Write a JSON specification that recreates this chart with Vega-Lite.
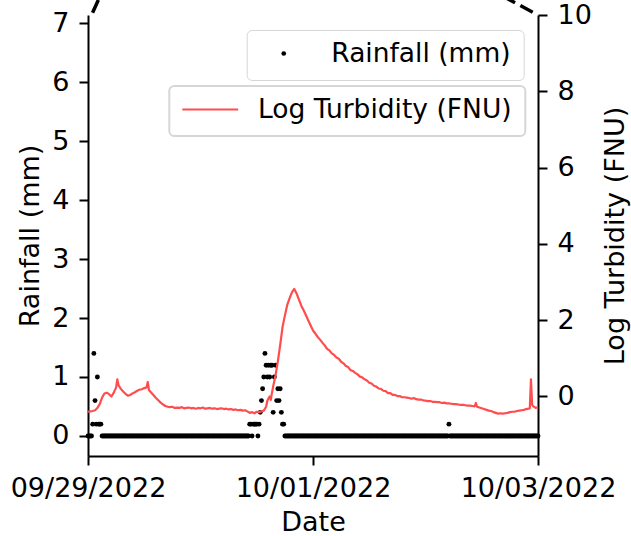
{
"$schema":"https://vega.github.io/schema/vega-lite/v6.json",
"width":450,"height":441,
"autosize":{"type":"none"},
"padding":{"left":88,"top":15,"right":93,"bottom":80},
"background":"white",
"data":{"values":[
{"d":"2022-09-29T00:00","r":0,"t":-0.4},{"d":"2022-09-29T00:15","r":0},{"d":"2022-09-29T00:30","r":0,"t":-0.39},{"d":"2022-09-29T00:45","r":0},
{"d":"2022-09-29T01:00","r":0.2,"t":-0.38},{"d":"2022-09-29T01:15","r":1.4},{"d":"2022-09-29T01:30","r":0.6,"t":-0.36},{"d":"2022-09-29T01:45","r":0.2},
{"d":"2022-09-29T02:00","r":1.0,"t":-0.3},{"d":"2022-09-29T02:15","r":0.2},{"d":"2022-09-29T02:30","r":0.2,"t":-0.2},{"d":"2022-09-29T02:45","r":0.2},
{"d":"2022-09-29T03:00","r":0,"t":-0.03},{"d":"2022-09-29T03:15","r":0},{"d":"2022-09-29T03:30","r":0,"t":0.08},{"d":"2022-09-29T03:45","r":0},
{"d":"2022-09-29T04:00","r":0,"t":0.1},{"d":"2022-09-29T04:15","r":0},{"d":"2022-09-29T04:30","r":0,"t":0.06},{"d":"2022-09-29T04:45","r":0},
{"d":"2022-09-29T05:00","r":0,"t":0.0},{"d":"2022-09-29T05:15","r":0},{"d":"2022-09-29T05:30","r":0,"t":0.1},{"d":"2022-09-29T05:45","r":0},
{"d":"2022-09-29T06:00","r":0,"t":0.24},{"d":"2022-09-29T06:15","r":0,"t":0.45},{"d":"2022-09-29T06:30","r":0,"t":0.3},{"d":"2022-09-29T06:45","r":0},
{"d":"2022-09-29T07:00","r":0,"t":0.2},{"d":"2022-09-29T07:15","r":0},{"d":"2022-09-29T07:30","r":0,"t":0.13},{"d":"2022-09-29T07:45","r":0},
{"d":"2022-09-29T08:00","r":0,"t":0.07},{"d":"2022-09-29T08:15","r":0},{"d":"2022-09-29T08:30","r":0,"t":0.02},{"d":"2022-09-29T08:45","r":0},
{"d":"2022-09-29T09:00","r":0,"t":0.04},{"d":"2022-09-29T09:15","r":0},{"d":"2022-09-29T09:30","r":0,"t":0.08},{"d":"2022-09-29T09:45","r":0},
{"d":"2022-09-29T10:00","r":0,"t":0.11},{"d":"2022-09-29T10:15","r":0},{"d":"2022-09-29T10:30","r":0,"t":0.15},{"d":"2022-09-29T10:45","r":0},
{"d":"2022-09-29T11:00","r":0,"t":0.18},{"d":"2022-09-29T11:15","r":0},{"d":"2022-09-29T11:30","r":0,"t":0.19},{"d":"2022-09-29T11:45","r":0},
{"d":"2022-09-29T12:00","r":0,"t":0.22},{"d":"2022-09-29T12:15","r":0},{"d":"2022-09-29T12:30","r":0,"t":0.24},{"d":"2022-09-29T12:45","r":0,"t":0.38},
{"d":"2022-09-29T13:00","r":0,"t":0.17},{"d":"2022-09-29T13:15","r":0},{"d":"2022-09-29T13:30","r":0,"t":0.1},{"d":"2022-09-29T13:45","r":0},
{"d":"2022-09-29T14:00","r":0,"t":0.03},{"d":"2022-09-29T14:15","r":0},{"d":"2022-09-29T14:30","r":0,"t":-0.04},{"d":"2022-09-29T14:45","r":0},
{"d":"2022-09-29T15:00","r":0,"t":-0.1},{"d":"2022-09-29T15:15","r":0},{"d":"2022-09-29T15:30","r":0,"t":-0.16},{"d":"2022-09-29T15:45","r":0},
{"d":"2022-09-29T16:00","r":0,"t":-0.21},{"d":"2022-09-29T16:15","r":0},{"d":"2022-09-29T16:30","r":0,"t":-0.25},{"d":"2022-09-29T16:45","r":0},
{"d":"2022-09-29T17:00","r":0,"t":-0.27},{"d":"2022-09-29T17:15","r":0},{"d":"2022-09-29T17:30","r":0,"t":-0.28},{"d":"2022-09-29T17:45","r":0},
{"d":"2022-09-29T18:00","r":0,"t":-0.27},{"d":"2022-09-29T18:15","r":0},{"d":"2022-09-29T18:30","r":0,"t":-0.3},{"d":"2022-09-29T18:45","r":0},
{"d":"2022-09-29T19:00","r":0,"t":-0.29},{"d":"2022-09-29T19:15","r":0},{"d":"2022-09-29T19:30","r":0,"t":-0.3},{"d":"2022-09-29T19:45","r":0},
{"d":"2022-09-29T20:00","r":0,"t":-0.28},{"d":"2022-09-29T20:15","r":0},{"d":"2022-09-29T20:30","r":0,"t":-0.31},{"d":"2022-09-29T20:45","r":0},
{"d":"2022-09-29T21:00","r":0,"t":-0.3},{"d":"2022-09-29T21:15","r":0},{"d":"2022-09-29T21:30","r":0,"t":-0.29},{"d":"2022-09-29T21:45","r":0},
{"d":"2022-09-29T22:00","r":0,"t":-0.31},{"d":"2022-09-29T22:15","r":0},{"d":"2022-09-29T22:30","r":0,"t":-0.3},{"d":"2022-09-29T22:45","r":0},
{"d":"2022-09-29T23:00","r":0,"t":-0.32},{"d":"2022-09-29T23:15","r":0},{"d":"2022-09-29T23:30","r":0,"t":-0.3},{"d":"2022-09-29T23:45","r":0},
{"d":"2022-09-30T00:00","r":0,"t":-0.31},{"d":"2022-09-30T00:15","r":0},{"d":"2022-09-30T00:30","r":0,"t":-0.29},{"d":"2022-09-30T00:45","r":0},
{"d":"2022-09-30T01:00","r":0,"t":-0.32},{"d":"2022-09-30T01:15","r":0},{"d":"2022-09-30T01:30","r":0,"t":-0.31},{"d":"2022-09-30T01:45","r":0},
{"d":"2022-09-30T02:00","r":0,"t":-0.3},{"d":"2022-09-30T02:15","r":0},{"d":"2022-09-30T02:30","r":0,"t":-0.32},{"d":"2022-09-30T02:45","r":0},
{"d":"2022-09-30T03:00","r":0,"t":-0.31},{"d":"2022-09-30T03:15","r":0},{"d":"2022-09-30T03:30","r":0,"t":-0.33},{"d":"2022-09-30T03:45","r":0},
{"d":"2022-09-30T04:00","r":0,"t":-0.32},{"d":"2022-09-30T04:15","r":0},{"d":"2022-09-30T04:30","r":0,"t":-0.31},{"d":"2022-09-30T04:45","r":0},
{"d":"2022-09-30T05:00","r":0,"t":-0.33},{"d":"2022-09-30T05:15","r":0},{"d":"2022-09-30T05:30","r":0,"t":-0.32},{"d":"2022-09-30T05:45","r":0},
{"d":"2022-09-30T06:00","r":0,"t":-0.34},{"d":"2022-09-30T06:15","r":0},{"d":"2022-09-30T06:30","r":0,"t":-0.33},{"d":"2022-09-30T06:45","r":0},
{"d":"2022-09-30T07:00","r":0,"t":-0.35},{"d":"2022-09-30T07:15","r":0},{"d":"2022-09-30T07:30","r":0,"t":-0.34},{"d":"2022-09-30T07:45","r":0},
{"d":"2022-09-30T08:00","r":0,"t":-0.36},{"d":"2022-09-30T08:15","r":0},{"d":"2022-09-30T08:30","r":0,"t":-0.35},{"d":"2022-09-30T08:45","r":0},
{"d":"2022-09-30T09:00","r":0,"t":-0.37},{"d":"2022-09-30T09:15","r":0},{"d":"2022-09-30T09:30","r":0,"t":-0.36},{"d":"2022-09-30T09:45","r":0},
{"d":"2022-09-30T10:00","r":0,"t":-0.39},{"d":"2022-09-30T10:15","r":0},{"d":"2022-09-30T10:30","r":0.2,"t":-0.43},{"d":"2022-09-30T10:45","r":0.2},
{"d":"2022-09-30T11:00","r":0,"t":-0.41},{"d":"2022-09-30T11:15","r":0.2},{"d":"2022-09-30T11:30","r":0.2,"t":-0.44},{"d":"2022-09-30T11:45","r":0.2},
{"d":"2022-09-30T12:00","r":0.2,"t":-0.4},{"d":"2022-09-30T12:15","r":0},{"d":"2022-09-30T12:30","r":0.2,"t":-0.41},{"d":"2022-09-30T12:45","r":0.4},
{"d":"2022-09-30T13:00","r":0.6,"t":-0.39},{"d":"2022-09-30T13:15","r":0.8},{"d":"2022-09-30T13:30","r":1.0,"t":-0.37},{"d":"2022-09-30T13:45","r":1.4},
{"d":"2022-09-30T14:00","r":1.2,"t":-0.27},{"d":"2022-09-30T14:15","r":1.0,"t":-0.12},{"d":"2022-09-30T14:30","r":1.2,"t":-0.05},{"d":"2022-09-30T14:45","r":1.0,"t":0.0},
{"d":"2022-09-30T15:00","r":1.2,"t":-0.09},{"d":"2022-09-30T15:15","r":1.2,"t":0.1},{"d":"2022-09-30T15:30","r":0.4,"t":0.26},{"d":"2022-09-30T15:45","r":1.0},
{"d":"2022-09-30T16:00","r":1.2,"t":0.55},{"d":"2022-09-30T16:15","r":0.6},{"d":"2022-09-30T16:30","r":0.8,"t":0.92},{"d":"2022-09-30T16:45","r":0.6},
{"d":"2022-09-30T17:00","r":0.8,"t":1.35},{"d":"2022-09-30T17:15","r":0.4},{"d":"2022-09-30T17:30","r":0.2,"t":1.82},{"d":"2022-09-30T17:45","r":0.2},
{"d":"2022-09-30T18:00","r":0,"t":2.12},{"d":"2022-09-30T18:15","r":0},{"d":"2022-09-30T18:30","r":0,"t":2.4},{"d":"2022-09-30T18:45","r":0},
{"d":"2022-09-30T19:00","r":0,"t":2.57},{"d":"2022-09-30T19:15","r":0},{"d":"2022-09-30T19:30","r":0,"t":2.73},{"d":"2022-09-30T19:45","r":0},
{"d":"2022-09-30T20:00","r":0,"t":2.82},{"d":"2022-09-30T20:15","r":0},{"d":"2022-09-30T20:30","r":0,"t":2.7},{"d":"2022-09-30T20:45","r":0},
{"d":"2022-09-30T21:00","r":0,"t":2.54},{"d":"2022-09-30T21:15","r":0},{"d":"2022-09-30T21:30","r":0,"t":2.38},{"d":"2022-09-30T21:45","r":0},
{"d":"2022-09-30T22:00","r":0,"t":2.26},{"d":"2022-09-30T22:15","r":0},{"d":"2022-09-30T22:30","r":0,"t":2.13},{"d":"2022-09-30T22:45","r":0},
{"d":"2022-09-30T23:00","r":0,"t":1.99},{"d":"2022-09-30T23:15","r":0},{"d":"2022-09-30T23:30","r":0,"t":1.86},{"d":"2022-09-30T23:45","r":0},
{"d":"2022-10-01T00:00","r":0,"t":1.73},{"d":"2022-10-01T00:15","r":0},{"d":"2022-10-01T00:30","r":0,"t":1.65},{"d":"2022-10-01T00:45","r":0},
{"d":"2022-10-01T01:00","r":0,"t":1.56},{"d":"2022-10-01T01:15","r":0},{"d":"2022-10-01T01:30","r":0,"t":1.49},{"d":"2022-10-01T01:45","r":0},
{"d":"2022-10-01T02:00","r":0,"t":1.41},{"d":"2022-10-01T02:15","r":0},{"d":"2022-10-01T02:30","r":0,"t":1.34},{"d":"2022-10-01T02:45","r":0},
{"d":"2022-10-01T03:00","r":0,"t":1.25},{"d":"2022-10-01T03:15","r":0},{"d":"2022-10-01T03:30","r":0,"t":1.21},{"d":"2022-10-01T03:45","r":0},
{"d":"2022-10-01T04:00","r":0,"t":1.13},{"d":"2022-10-01T04:15","r":0},{"d":"2022-10-01T04:30","r":0,"t":1.09},{"d":"2022-10-01T04:45","r":0},
{"d":"2022-10-01T05:00","r":0,"t":1.02},{"d":"2022-10-01T05:15","r":0},{"d":"2022-10-01T05:30","r":0,"t":0.99},{"d":"2022-10-01T05:45","r":0},
{"d":"2022-10-01T06:00","r":0,"t":0.91},{"d":"2022-10-01T06:15","r":0},{"d":"2022-10-01T06:30","r":0,"t":0.87},{"d":"2022-10-01T06:45","r":0},
{"d":"2022-10-01T07:00","r":0,"t":0.8},{"d":"2022-10-01T07:15","r":0},{"d":"2022-10-01T07:30","r":0,"t":0.77},{"d":"2022-10-01T07:45","r":0},
{"d":"2022-10-01T08:00","r":0,"t":0.69},{"d":"2022-10-01T08:15","r":0},{"d":"2022-10-01T08:30","r":0,"t":0.67},{"d":"2022-10-01T08:45","r":0},
{"d":"2022-10-01T09:00","r":0,"t":0.62},{"d":"2022-10-01T09:15","r":0},{"d":"2022-10-01T09:30","r":0,"t":0.58},{"d":"2022-10-01T09:45","r":0},
{"d":"2022-10-01T10:00","r":0,"t":0.52},{"d":"2022-10-01T10:15","r":0},{"d":"2022-10-01T10:30","r":0,"t":0.5},{"d":"2022-10-01T10:45","r":0},
{"d":"2022-10-01T11:00","r":0,"t":0.45},{"d":"2022-10-01T11:15","r":0},{"d":"2022-10-01T11:30","r":0,"t":0.42},{"d":"2022-10-01T11:45","r":0},
{"d":"2022-10-01T12:00","r":0,"t":0.36},{"d":"2022-10-01T12:15","r":0},{"d":"2022-10-01T12:30","r":0,"t":0.34},{"d":"2022-10-01T12:45","r":0},
{"d":"2022-10-01T13:00","r":0,"t":0.28},{"d":"2022-10-01T13:15","r":0},{"d":"2022-10-01T13:30","r":0,"t":0.26},{"d":"2022-10-01T13:45","r":0},
{"d":"2022-10-01T14:00","r":0,"t":0.21},{"d":"2022-10-01T14:15","r":0},{"d":"2022-10-01T14:30","r":0,"t":0.2},{"d":"2022-10-01T14:45","r":0},
{"d":"2022-10-01T15:00","r":0,"t":0.15},{"d":"2022-10-01T15:15","r":0},{"d":"2022-10-01T15:30","r":0,"t":0.14},{"d":"2022-10-01T15:45","r":0},
{"d":"2022-10-01T16:00","r":0,"t":0.09},{"d":"2022-10-01T16:15","r":0},{"d":"2022-10-01T16:30","r":0,"t":0.09},{"d":"2022-10-01T16:45","r":0},
{"d":"2022-10-01T17:00","r":0,"t":0.04},{"d":"2022-10-01T17:15","r":0},{"d":"2022-10-01T17:30","r":0,"t":0.04},{"d":"2022-10-01T17:45","r":0},
{"d":"2022-10-01T18:00","r":0,"t":0.01},{"d":"2022-10-01T18:15","r":0},{"d":"2022-10-01T18:30","r":0,"t":0.01},{"d":"2022-10-01T18:45","r":0},
{"d":"2022-10-01T19:00","r":0,"t":-0.02},{"d":"2022-10-01T19:15","r":0},{"d":"2022-10-01T19:30","r":0,"t":-0.02},{"d":"2022-10-01T19:45","r":0},
{"d":"2022-10-01T20:00","r":0,"t":-0.03},{"d":"2022-10-01T20:15","r":0},{"d":"2022-10-01T20:30","r":0,"t":-0.04},{"d":"2022-10-01T20:45","r":0},
{"d":"2022-10-01T21:00","r":0,"t":-0.06},{"d":"2022-10-01T21:15","r":0},{"d":"2022-10-01T21:30","r":0,"t":-0.04},{"d":"2022-10-01T21:45","r":0},
{"d":"2022-10-01T22:00","r":0,"t":-0.07},{"d":"2022-10-01T22:15","r":0},{"d":"2022-10-01T22:30","r":0,"t":-0.08},{"d":"2022-10-01T22:45","r":0},
{"d":"2022-10-01T23:00","r":0,"t":-0.08},{"d":"2022-10-01T23:15","r":0},{"d":"2022-10-01T23:30","r":0,"t":-0.1},{"d":"2022-10-01T23:45","r":0},
{"d":"2022-10-02T00:00","r":0,"t":-0.11},{"d":"2022-10-02T00:15","r":0},{"d":"2022-10-02T00:30","r":0,"t":-0.12},{"d":"2022-10-02T00:45","r":0},
{"d":"2022-10-02T01:00","r":0,"t":-0.12},{"d":"2022-10-02T01:15","r":0},{"d":"2022-10-02T01:30","r":0,"t":-0.14},{"d":"2022-10-02T01:45","r":0},
{"d":"2022-10-02T02:00","r":0,"t":-0.14},{"d":"2022-10-02T02:15","r":0},{"d":"2022-10-02T02:30","r":0,"t":-0.15},{"d":"2022-10-02T02:45","r":0},
{"d":"2022-10-02T03:00","r":0,"t":-0.15},{"d":"2022-10-02T03:15","r":0},{"d":"2022-10-02T03:30","r":0,"t":-0.17},{"d":"2022-10-02T03:45","r":0},
{"d":"2022-10-02T04:00","r":0,"t":-0.16},{"d":"2022-10-02T04:15","r":0},{"d":"2022-10-02T04:30","r":0,"t":-0.18},{"d":"2022-10-02T04:45","r":0},
{"d":"2022-10-02T05:00","r":0.2,"t":-0.18},{"d":"2022-10-02T05:15","r":0},{"d":"2022-10-02T05:30","r":0,"t":-0.19},{"d":"2022-10-02T05:45","r":0},
{"d":"2022-10-02T06:00","r":0,"t":-0.2},{"d":"2022-10-02T06:15","r":0},{"d":"2022-10-02T06:30","r":0,"t":-0.2},{"d":"2022-10-02T06:45","r":0},
{"d":"2022-10-02T07:00","r":0,"t":-0.21},{"d":"2022-10-02T07:15","r":0},{"d":"2022-10-02T07:30","r":0,"t":-0.22},{"d":"2022-10-02T07:45","r":0},
{"d":"2022-10-02T08:00","r":0,"t":-0.22},{"d":"2022-10-02T08:15","r":0},{"d":"2022-10-02T08:30","r":0,"t":-0.23},{"d":"2022-10-02T08:45","r":0},
{"d":"2022-10-02T09:00","r":0,"t":-0.24},{"d":"2022-10-02T09:15","r":0},{"d":"2022-10-02T09:30","r":0,"t":-0.24},{"d":"2022-10-02T09:45","r":0},
{"d":"2022-10-02T10:00","r":0,"t":-0.25},{"d":"2022-10-02T10:15","r":0},{"d":"2022-10-02T10:30","r":0,"t":-0.26},{"d":"2022-10-02T10:45","r":0,"t":-0.17},
{"d":"2022-10-02T11:00","r":0,"t":-0.27},{"d":"2022-10-02T11:15","r":0},{"d":"2022-10-02T11:30","r":0,"t":-0.29},{"d":"2022-10-02T11:45","r":0},
{"d":"2022-10-02T12:00","r":0,"t":-0.31},{"d":"2022-10-02T12:15","r":0},{"d":"2022-10-02T12:30","r":0,"t":-0.33},{"d":"2022-10-02T12:45","r":0},
{"d":"2022-10-02T13:00","r":0,"t":-0.35},{"d":"2022-10-02T13:15","r":0},{"d":"2022-10-02T13:30","r":0,"t":-0.37},{"d":"2022-10-02T13:45","r":0},
{"d":"2022-10-02T14:00","r":0,"t":-0.38},{"d":"2022-10-02T14:15","r":0},{"d":"2022-10-02T14:30","r":0,"t":-0.41},{"d":"2022-10-02T14:45","r":0},
{"d":"2022-10-02T15:00","r":0,"t":-0.43},{"d":"2022-10-02T15:15","r":0},{"d":"2022-10-02T15:30","r":0,"t":-0.45},{"d":"2022-10-02T15:45","r":0},
{"d":"2022-10-02T16:00","r":0,"t":-0.44},{"d":"2022-10-02T16:15","r":0},{"d":"2022-10-02T16:30","r":0,"t":-0.45},{"d":"2022-10-02T16:45","r":0},
{"d":"2022-10-02T17:00","r":0,"t":-0.44},{"d":"2022-10-02T17:15","r":0},{"d":"2022-10-02T17:30","r":0,"t":-0.43},{"d":"2022-10-02T17:45","r":0},
{"d":"2022-10-02T18:00","r":0,"t":-0.41},{"d":"2022-10-02T18:15","r":0},{"d":"2022-10-02T18:30","r":0,"t":-0.4},{"d":"2022-10-02T18:45","r":0},
{"d":"2022-10-02T19:00","r":0,"t":-0.4},{"d":"2022-10-02T19:15","r":0},{"d":"2022-10-02T19:30","r":0,"t":-0.38},{"d":"2022-10-02T19:45","r":0},
{"d":"2022-10-02T20:00","r":0,"t":-0.37},{"d":"2022-10-02T20:15","r":0},{"d":"2022-10-02T20:30","r":0,"t":-0.36},{"d":"2022-10-02T20:45","r":0},
{"d":"2022-10-02T21:00","r":0,"t":-0.35},{"d":"2022-10-02T21:15","r":0},{"d":"2022-10-02T21:30","r":0,"t":-0.33},{"d":"2022-10-02T21:45","r":0},
{"d":"2022-10-02T22:00","r":0,"t":-0.32},{"d":"2022-10-02T22:15","r":0,"t":-0.31},{"d":"2022-10-02T22:30","r":0,"t":0.45},{"d":"2022-10-02T22:45","r":0,"t":-0.22},
{"d":"2022-10-02T23:00","r":0,"t":-0.26},{"d":"2022-10-02T23:15","r":0},{"d":"2022-10-02T23:30","r":0,"t":-0.3},{"d":"2022-10-02T23:45","r":0},
{"d":"2022-10-03T00:00","r":0,"t":-0.28}
]},
"layer":[
{"mark":{"type":"point","filled":true,"color":"black","opacity":1,"size":24},
 "encoding":{
  "x":{"field":"d","type":"temporal","scale":{"domain":[{"year":2022,"month":9,"date":29},{"year":2022,"month":10,"date":3}]},
   "axis":{"title":"Date","values":[{"year":2022,"month":9,"date":29},{"year":2022,"month":10,"date":1},{"year":2022,"month":10,"date":3}],"format":"%m/%d/%Y","titleY":74,"titleBaseline":"alphabetic"}},
  "y":{"field":"r","type":"quantitative","scale":{"domain":[-0.34,7.14],"nice":false,"zero":false},
   "axis":{"title":"Rainfall (mm)","values":[0,1,2,3,4,5,6,7],"titleX":-50,"titleBaseline":"alphabetic","titleAngle":270}},
  "shape":{"datum":"Rainfall (mm)","scale":{"range":["circle"]},
   "legend":{"title":null,"orient":"none","legendX":158.7,"legendY":15,"padding":13,"clipHeight":21,"fillColor":"white","strokeColor":"#d6d6d6","cornerRadius":5,"symbolSize":22,"symbolFillColor":"black","symbolStrokeColor":"black","symbolStrokeWidth":0,"symbolOffset":10.8,"labelOffset":34.3,"encode":{"legend":{"update":{"strokeWidth":{"value":2}}}}}}
 }},
{"transform":[{"filter":"isValid(datum.t)"}],
 "mark":{"type":"line","strokeWidth":2.2,"strokeJoin":"round"},
 "encoding":{
  "x":{"field":"d","type":"temporal","scale":{"domain":[{"year":2022,"month":9,"date":29},{"year":2022,"month":10,"date":3}]}},
  "y":{"field":"t","type":"quantitative","scale":{"domain":[-1.56,10],"nice":false,"zero":false},
   "axis":{"orient":"right","title":"Log Turbidity (FNU)","values":[0,2,4,6,8,10],"titleX":85,"titleBaseline":"alphabetic","titleAngle":270}},
  "stroke":{"datum":"Log Turbidity (FNU)","scale":{"range":["#ff4d4d"]},
   "legend":{"title":null,"orient":"none","legendX":81.3,"legendY":71,"padding":13,"clipHeight":21,"fillColor":"white","strokeColor":"#d6d6d6","cornerRadius":5,"symbolType":"stroke","symbolSize":3215,"symbolStrokeWidth":2.2,"symbolOffset":-2,"labelOffset":18.7,"encode":{"legend":{"update":{"strokeWidth":{"value":2}}}}}}
 }},
{"data":{"values":[{"x1":"2022-09-29T00:45","y1":7.14,"x2":"2022-09-29T03:40","y2":7.65}]},
 "mark":{"type":"rule","color":"black","strokeWidth":3.5,"strokeDash":[14,6],"strokeDashOffset":17.5,"strokeCap":"butt"},
 "encoding":{
  "x":{"field":"x1","type":"temporal","scale":{"domain":[{"year":2022,"month":9,"date":29},{"year":2022,"month":10,"date":3}]}},
  "x2":{"field":"x2"},
  "y":{"field":"y1","type":"quantitative","scale":{"domain":[-0.34,7.14],"nice":false,"zero":false},"axis":null},
  "y2":{"field":"y2"}
 }},
{"data":{"values":[{"x1":"2022-10-03T00:00","y1":7.14,"x2":"2022-10-02T12:00","y2":7.65}]},
 "mark":{"type":"rule","color":"black","strokeWidth":3.5,"strokeDash":[14,6],"strokeDashOffset":14,"strokeCap":"butt"},
 "encoding":{
  "x":{"field":"x1","type":"temporal","scale":{"domain":[{"year":2022,"month":9,"date":29},{"year":2022,"month":10,"date":3}]}},
  "x2":{"field":"x2"},
  "y":{"field":"y1","type":"quantitative","scale":{"domain":[-0.34,7.14],"nice":false,"zero":false},"axis":null},
  "y2":{"field":"y2"}
 }}
],
"resolve":{"scale":{"y":"independent"}},
"config":{
 "font":"DejaVu Sans",
 "view":{"stroke":null},
 "axis":{"labelFont":"DejaVu Sans","titleFont":"DejaVu Sans","labelFontSize":27,"titleFontSize":27,"titleFontWeight":"normal","labelColor":"black","titleColor":"black","domainColor":"black","tickColor":"black","domainWidth":2,"tickWidth":2,"tickSize":9,"labelPadding":10,"grid":false,"labelFlush":false,"labelOverlap":false},
 "legend":{"labelFont":"DejaVu Sans","labelFontSize":26.5,"labelColor":"black","labelLimit":500}
}
}
